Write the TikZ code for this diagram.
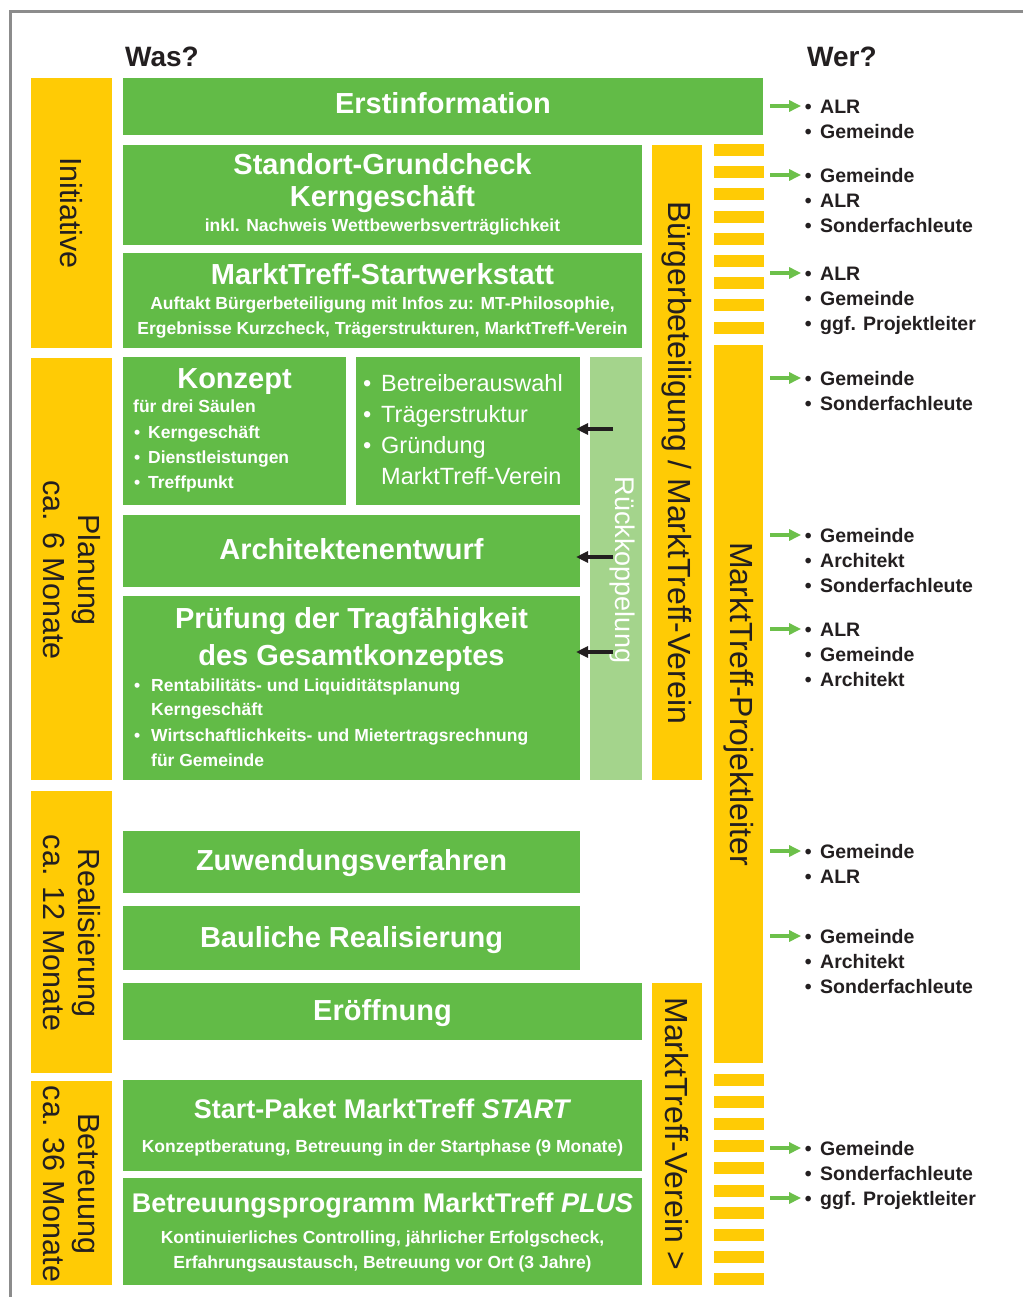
\documentclass[tikz,border=0pt]{standalone}
\usepackage{fontspec}
\setmainfont{Liberation Sans}
\usetikzlibrary{arrows.meta}

\definecolor{mtgreen}{HTML}{62BB47}
\definecolor{mtlight}{HTML}{A4D48C}
\definecolor{mtyellow}{HTML}{FFCB05}
\definecolor{mtarrow}{HTML}{6CC04A}
\definecolor{mttext}{HTML}{231F20}
\definecolor{mtframe}{HTML}{8C8C8C}

\newcommand\fs[1]{\fontsize{#1}{#1}\selectfont}
% bullet in a box of fixed width, so the text after it starts at a known place
\newcommand\bul[1]{\makebox[#1][l]{•}}
% filled area given by its corners: name, style, x1, y1, x2, y2
\newcommand\area[6]{\node[#2, minimum width={(#5)-(#3)}, minimum height={(#6)-(#4)}] (#1) at ({((#3)+(#5))/2},{((#4)+(#6))/2}) {};}

\tikzset{
  gbox/.style={rectangle, fill=mtgreen, inner sep=0, outer sep=0},
  lbox/.style={rectangle, fill=mtlight, inner sep=0, outer sep=0},
  ybox/.style={rectangle, fill=mtyellow, inner sep=0, outer sep=0},
  ttl/.style={text=white, font=\bfseries\fs{29}, anchor=base, inner sep=0},
  ttlsm/.style={text=white, font=\bfseries\fs{27}, anchor=base, inner sep=0},
  sub/.style={text=white, font=\bfseries\fs{17.5}, anchor=base, inner sep=0},
  subl/.style={sub, anchor=base west},
  mid/.style={text=white, font=\fs{23.5}, anchor=base west, inner sep=0},
  vlabel/.style={rotate=-90, text=mttext, font=\fontsize{30.5}{35}\selectfont, align=center, inner sep=0},
  vbar/.style={rotate=-90, text=mttext, font=\fs{32}, inner sep=0},
  head/.style={text=mttext, font=\bfseries\fs{28}, anchor=base west, inner sep=0},
  wer/.style={text=mttext, font=\bfseries\fs{19.5}, anchor=base west, inner sep=0,
              text height=15pt, text depth=0pt},
  garrow/.style={draw=mtarrow, line width=4pt, shorten >=3.5pt,
                 -{Triangle[length=12pt,width=11pt]}},
  karrow/.style={draw=mttext, line width=4pt, shorten >=-4pt,
                 -{Triangle[length=12pt,width=11pt]}},
}

% one entry of the "Wer?" list: name, y of the bullet, text
\newcommand\werline[3]{\node[wer] (#1) at (804.6,{#2+7.5}) {\bul{15.4pt}#3};}

\begin{document}
\begin{tikzpicture}[x=1pt,y=-1pt]
\useasboundingbox (0,0) rectangle (1023,1297);

% frame
\draw[mtframe, line width=3pt] (1023,12) -- (10,12) -- (10,1297);

% column heads
\node[head] (was) at (125,67) {Was?};
\node[head] (werhead) at (807,67) {Wer?};

% phases
\area{initbox}{ybox}{31}{78}{112}{348}
\area{planbox}{ybox}{31}{358}{112}{780}
\area{realbox}{ybox}{31}{791}{112}{1073}
\area{betrbox}{ybox}{31}{1081}{112}{1285}
\node[vlabel] (initlbl) at (initbox.center) {Initiative};
\node[vlabel] (planlbl) at (71.5,570) {Planung\\ca. 6 Monate};
\node[vlabel] (reallbl) at (71.5,933) {Realisierung\\ca. 12 Monate};
\node[vlabel] (betrlbl) at (71.5,1184) {Betreuung\\ca. 36 Monate};

% steps
\area{erst}{gbox}{123}{78}{763}{135}
\area{standort}{gbox}{123}{145}{642}{245}
\area{startw}{gbox}{123}{253}{642}{348}
\area{konzept}{gbox}{123}{357}{346}{505}
\area{betreiber}{gbox}{356}{357}{580}{505}
\area{rueck}{lbox}{590}{357}{642}{780}
\area{archi}{gbox}{123}{515}{580}{587}
\area{pruef}{gbox}{123}{596}{580}{780}
\area{zuw}{gbox}{123}{831}{580}{893}
\area{baul}{gbox}{123}{906}{580}{970}
\area{eroef}{gbox}{123}{983}{642}{1040}
\area{startp}{gbox}{123}{1080}{642}{1171}
\area{plus}{gbox}{123}{1178}{642}{1285}

\node[ttl] (erstT) at (443,114) {Erstinformation};

\node[ttl] (standT1) at (382.5,175) {Standort-Grundcheck};
\node[ttl] (standT2) at (382.5,207) {Kerngeschäft};
\node[sub] (standS) at (382.5,232) {inkl. Nachweis Wettbewerbsverträglichkeit};

\node[ttl] (startwT) at (382.5,284) {MarktTreff-Startwerkstatt};
\node[sub] (startwS1) at (382.5,309) {Auftakt Bürgerbeteiligung mit Infos zu: MT-Philosophie,};
\node[sub] (startwS2) at (382.5,334) {Ergebnisse Kurzcheck, Trägerstrukturen, MarktTreff-Verein};

\node[ttl] (konzT) at (234.5,388) {Konzept};
\node[subl] (konzS0) at (133,412) {für drei Säulen};
\node[subl] (konzS1) at (134,438) {\bul{14pt}Kerngeschäft};
\node[subl] (konzS2) at (134,463) {\bul{14pt}Dienstleistungen};
\node[subl] (konzS3) at (134,488) {\bul{14pt}Treffpunkt};

\node[mid] (betrS1) at (363,391) {\bul{18pt}Betreiberauswahl};
\node[mid] (betrS2) at (363,422) {\bul{18pt}Trägerstruktur};
\node[mid] (betrS3) at (363,453) {\bul{18pt}Gründung};
\node[mid] (betrS4) at (381,484) {MarktTreff-Verein};

\node[ttl] (archiT) at (351.5,559) {Architektenentwurf};

\node[ttl] (pruefT1) at (351.5,628) {Prüfung der Tragfähigkeit};
\node[ttl] (pruefT2) at (351.5,665) {des Gesamtkonzeptes};
\node[subl] (pruefS1) at (134,691) {\bul{17pt}Rentabilitäts- und Liquiditätsplanung};
\node[subl] (pruefS2) at (151,715) {Kerngeschäft};
\node[subl] (pruefS3) at (134,741) {\bul{17pt}Wirtschaftlichkeits- und Mietertragsrechnung};
\node[subl] (pruefS4) at (151,766) {für Gemeinde};

\node[ttl] (zuwT) at (351.5,870) {Zuwendungsverfahren};
\node[ttl] (baulT) at (351.5,947) {Bauliche Realisierung};
\node[ttl] (eroefT) at (382.5,1020) {Eröffnung};

\node[ttlsm] (startpT) at (382.5,1118) {Start-Paket MarktTreff \textit{START}};
\node[sub] (startpS) at (382.5,1152) {Konzeptberatung, Betreuung in der Startphase (9 Monate)};

\node[ttlsm] (plusT) at (382.5,1212) {Betreuungsprogramm MarktTreff \textit{PLUS}};
\node[sub] (plusS1) at (382.5,1243) {Kontinuierliches Controlling, jährlicher Erfolgscheck,};
\node[sub] (plusS2) at (382.5,1268) {Erfahrungsaustausch, Betreuung vor Ort (3 Jahre)};

% feedback column
\node[rotate=-90, text=white, font=\fs{27}, inner sep=0] (rueckT) at (622,570) {Rückkoppelung};
\coordinate (rs1) at (613,429);
\coordinate (rs2) at (613,557);
\coordinate (rs3) at (613,652);
\draw[karrow] (rs1) -- (rs1 -| betreiber.east);
\draw[karrow] (rs2) -- (rs2 -| archi.east);
\draw[karrow] (rs3) -- (rs3 -| pruef.east);

% participation columns
\area{buerger}{ybox}{652}{145}{702}{780}
\area{vereinbar}{ybox}{652}{983}{702}{1285}
\area{projl}{ybox}{714}{345}{763}{1063}
\node[vbar] (buergerT) at (buerger.center) {Bürgerbeteiligung / MarktTreff-Verein};
\node[vbar] (vereinT) at (vereinbar.center) {MarktTreff-Verein >};
\node[vbar] (projlT) at (projl.center) {MarktTreff-Projektleiter};

% dashed continuation of the project leader column
\foreach \i in {0,...,8} \fill[mtyellow] (714,{144+22.2*\i}) rectangle ++(50,12);
\foreach \i in {0,...,9} \fill[mtyellow] (714,{1074+22.1*\i}) rectangle ++(50,12);

% who takes part
\werline{w1a}{106}{ALR}
\werline{w1b}{131}{Gemeinde}
\werline{w2a}{175}{Gemeinde}
\werline{w2b}{200}{ALR}
\werline{w2c}{225}{Sonderfachleute}
\werline{w3a}{273}{ALR}
\werline{w3b}{298}{Gemeinde}
\werline{w3c}{323}{ggf. Projektleiter}
\werline{w4a}{378}{Gemeinde}
\werline{w4b}{403}{Sonderfachleute}
\werline{w5a}{535}{Gemeinde}
\werline{w5b}{560}{Architekt}
\werline{w5c}{585}{Sonderfachleute}
\werline{w6a}{629}{ALR}
\werline{w6b}{654}{Gemeinde}
\werline{w6c}{679}{Architekt}
\werline{w7a}{851}{Gemeinde}
\werline{w7b}{876}{ALR}
\werline{w8a}{936}{Gemeinde}
\werline{w8b}{961}{Architekt}
\werline{w8c}{986}{Sonderfachleute}
\werline{w9a}{1148}{Gemeinde}
\werline{w9b}{1173}{Sonderfachleute}
\werline{w9c}{1198}{ggf. Projektleiter}

\foreach \n/\y in {w1a/106, w2a/175, w3a/273, w4a/378, w5a/535, w6a/629, w7a/851, w8a/936, w9a/1148, w9c/1198}
  \draw[garrow] (770,\y) coordinate (gs-\n) -- (\n.west);

\end{tikzpicture}
\end{document}
